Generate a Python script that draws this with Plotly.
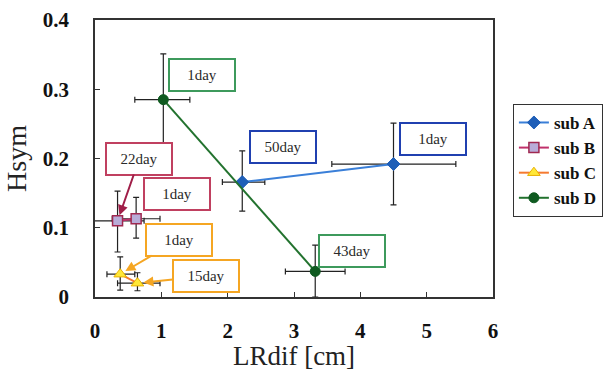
import plotly.graph_objects as go

# ---- data ----
sub_names = ["sub A", "sub B", "sub C", "sub D"]
a_x = [2.22, 4.50]
a_y = [0.166, 0.192]
a_xerr_minus = [0.30, 0.93]
a_xerr_plus = [0.34, 0.94]
a_yerr_minus = [0.042, 0.059]
a_yerr_plus = [0.045, 0.059]

b_x = [0.34, 0.62]
b_y = [0.110, 0.113]
b_xerr = [0.40, 0.36]
b_yerr_minus = [0.045, 0.028]
b_yerr_plus = [0.043, 0.031]

c_x = [0.38, 0.64]
c_y = [0.033, 0.020]
c_xerr_minus = [0.20, 0.30]
c_xerr_plus = [0.22, 0.34]
c_yerr_minus = [0.023, 0.011]
c_yerr_plus = [0.025, 0.015]

d_x = [1.03, 3.32]
d_y = [0.285, 0.037]
d_xerr_minus = [0.43, 0.45]
d_xerr_plus = [0.40, 0.45]
d_yerr_minus = [0.064, 0.037]
d_yerr_plus = [0.066, 0.038]

x_ticks = [0, 1, 2, 3, 4, 5, 6]
y_ticks = [0, 0.1, 0.2, 0.3, 0.4]
y_tick_text = ["0", "0.1", "0.2", "0.3", "0.4"]

# day labels attached to the points
a_days = ["50day", "1day"]
b_days = ["22day", "1day"]
c_days = ["1day", "15day"]
d_days = ["1day", "43day"]

SERIF = "Liberation Serif, Times New Roman, serif"

fig = go.Figure()

def err(plus, minus=None):
    d = dict(type="data", array=plus, color="#222222", thickness=1.2, width=3, visible=True)
    if minus is not None:
        d["symmetric"] = False
        d["arrayminus"] = minus
    return d

fig.add_trace(go.Scatter(
    x=a_x, y=a_y, name=sub_names[0], mode="lines+markers",
    line=dict(color="#3a7fd8", width=2),
    marker=dict(symbol="diamond", size=10, color="#1f5fb8", line=dict(color="#1f5fb8", width=1)),
    error_x=err(a_xerr_plus, a_xerr_minus), error_y=err(a_yerr_plus, a_yerr_minus)))
fig.add_trace(go.Scatter(
    x=b_x, y=b_y, name=sub_names[1], mode="lines+markers",
    line=dict(color="#c0306a", width=2),
    marker=dict(symbol="square", size=10, color="#b8acd8", line=dict(color="#a02850", width=1.5)),
    error_x=err(b_xerr), error_y=err(b_yerr_plus, b_yerr_minus)))
fig.add_trace(go.Scatter(
    x=c_x, y=c_y, name=sub_names[2], mode="lines+markers",
    line=dict(color="#f57a30", width=2),
    marker=dict(symbol="triangle-up", size=11, color="#ffe838", line=dict(color="#e8b000", width=1)),
    error_x=err(c_xerr_plus, c_xerr_minus), error_y=err(c_yerr_plus, c_yerr_minus)))
fig.add_trace(go.Scatter(
    x=d_x, y=d_y, name=sub_names[3], mode="lines+markers",
    line=dict(color="#22722e", width=2),
    marker=dict(symbol="circle", size=10, color="#0f5a20", line=dict(color="#0f5a20", width=1)),
    error_x=err(d_xerr_plus, d_xerr_minus), error_y=err(d_yerr_plus, d_yerr_minus)))

box_font = dict(family=SERIF, size=15, color="#2a2a2a")

def label(text, bx, by, border, px=None, py=None, arrow_color=None):
    ann = dict(text=text, font=box_font, bordercolor=border, borderwidth=2,
               borderpad=3, width=58, height=24, bgcolor="white", align="center")
    if px is None:
        ann.update(x=bx, y=by, xref="x", yref="y", showarrow=False)
    else:
        ann.update(x=px, y=py, xref="x", yref="y", ax=bx, ay=by, axref="x", ayref="y",
                   showarrow=True, arrowhead=2, arrowsize=1, arrowwidth=2,
                   arrowcolor=arrow_color, standoff=6)
    return ann

annotations = [
    label(d_days[0], 1.61, 0.321, "#3d9a5c"),
    label(a_days[0], 2.84, 0.216, "#2040b0"),
    label(a_days[1], 5.10, 0.228, "#2040b0"),
    label(b_days[0], 0.67, 0.200, "#c04060", b_x[0], b_y[0], "#a01e48"),
    label(b_days[1], 1.24, 0.149, "#c04060"),
    label(c_days[0], 1.26, 0.083, "#f5a623", c_x[0], c_y[0], "#f5a623"),
    label(c_days[1], 1.67, 0.030, "#f5a623", c_x[1], c_y[1], "#f5a623"),
    label(d_days[1], 3.88, 0.067, "#3d9a5c"),
]

tick_font = dict(family=SERIF, size=21, color="#111111", weight="bold")

fig.update_layout(
    width=607, height=371,
    margin=dict(l=95, r=114, t=20, b=74, autoexpand=False),
    paper_bgcolor="white", plot_bgcolor="white",
    annotations=annotations,
    showlegend=True,
    legend=dict(x=1.05, y=0.697, xanchor="left", yanchor="top",
                font=dict(family=SERIF, size=17, color="#111111", weight="bold"),
                bordercolor="#333333", borderwidth=1, bgcolor="white",
                tracegroupgap=0, itemwidth=30),
    xaxis=dict(range=[0, 6], tickvals=x_ticks, ticks="inside", ticklen=5, tickcolor="#333333",
               showline=True, linecolor="#333333", linewidth=1.5, mirror=True,
               showgrid=False, zeroline=False,
               tickfont=tick_font, ticklabelstandoff=14,
               title=dict(text="LRdif [cm]", font=dict(family=SERIF, size=27, color="#222222"),
                          standoff=6)),
    yaxis=dict(range=[0, 0.4], tickvals=y_ticks, ticktext=y_tick_text, ticks="inside", ticklen=5,
               tickcolor="#333333",
               showline=True, linecolor="#333333", linewidth=1.5, mirror=True,
               showgrid=False, zeroline=False,
               tickfont=tick_font, ticklabelstandoff=20,
               title=dict(text="Hsym", font=dict(family=SERIF, size=28, color="#222222"),
                          standoff=8)),
)

fig.write_html("out.html")
